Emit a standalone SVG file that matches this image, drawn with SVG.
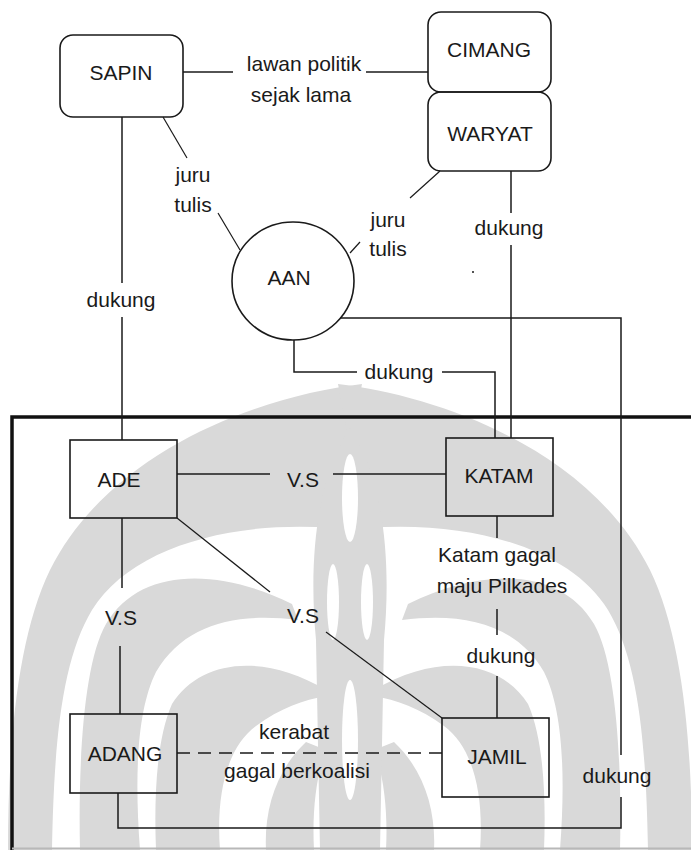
<svg xmlns="http://www.w3.org/2000/svg" width="691" height="850" viewBox="0 0 691 850">
  <style>
    .wm { fill: #d9d9d9; stroke: none; }
    .slit { fill: #ffffff; stroke: none; }
    .box { fill: none; stroke: #1a1a1a; stroke-width: 1.6; }
    .ln { fill: none; stroke: #1a1a1a; stroke-width: 1.5; }
    .thin { fill: none; stroke: #1a1a1a; stroke-width: 1.2; }
    .dash { fill: none; stroke: #1a1a1a; stroke-width: 1.6; stroke-dasharray: 13 8; }
    text { font-family: "Liberation Sans", Arial, sans-serif; font-size: 21px; fill: #1a1a1a; text-anchor: middle; }
  </style>
  <defs>
    <!-- one half of the background emblem: rim and arching leaves -->
    <g id="emblem-half">
      <path class="wm" d="M362,384 C260,396 110,450 50,570 C18,636 8,740 8,850 L52,850 C54,740 62,660 92,610 C130,548 230,520 334,528 Z"/>
      <path class="wm" d="M292,604 C220,568 140,566 106,624 C84,662 78,760 80,850 L140,850 C134,770 138,708 156,672 C184,624 236,612 298,620 Z"/>
      <path class="wm" d="M326,690 C262,652 200,660 172,704 C156,740 154,800 156,850 L220,850 C216,796 226,748 256,726 C280,708 304,700 326,696 Z"/>
      <path class="wm" d="M306,742 C276,770 264,810 266,850 L314,850 C312,812 316,776 326,750 Z"/>
    </g>
  </defs>

  <rect width="691" height="850" fill="#ffffff"/>

  <!-- faint background emblem -->
  <g id="emblem">
    <use href="#emblem-half"/>
    <use href="#emblem-half" transform="translate(700,0) scale(-1,1)"/>
    <path class="wm" d="M350,428 C382,476 392,556 384,640 L380,850 L320,850 L316,640 C308,556 318,476 350,428 Z"/>
    <ellipse class="slit" cx="350" cy="498" rx="8" ry="44"/>
    <ellipse class="slit" cx="333" cy="602" rx="6" ry="38"/>
    <ellipse class="slit" cx="367" cy="602" rx="6" ry="38"/>
    <ellipse class="slit" cx="350" cy="740" rx="8" ry="60"/>
  </g>

  <!-- village frame -->
  <g id="frame">
    <path d="M691,417 H12 V850" fill="none" stroke="#111" stroke-width="3.5"/>
    <line x1="12" y1="848.5" x2="691" y2="848.5" stroke="#b8b8b8" stroke-width="2"/>
  </g>

  <g id="connectors">
    <!-- SAPIN - CIMANG -->
    <line class="ln" x1="183" y1="72" x2="233" y2="72"/>
    <line class="ln" x1="366" y1="72" x2="428" y2="72"/>
    <!-- SAPIN - ADE -->
    <line class="ln" x1="122" y1="117" x2="122" y2="283"/>
    <line class="ln" x1="122" y1="317" x2="122" y2="440"/>
    <!-- SAPIN - AAN -->
    <line class="thin" x1="163" y1="117" x2="187" y2="158"/>
    <line class="thin" x1="218" y1="213" x2="240" y2="250"/>
    <!-- WARYAT - AAN -->
    <line class="thin" x1="440" y1="171" x2="410" y2="198"/>
    <line class="thin" x1="360" y1="242" x2="350" y2="253"/>
    <!-- WARYAT - KATAM -->
    <line class="ln" x1="511" y1="171" x2="511" y2="213"/>
    <line class="ln" x1="511" y1="245" x2="511" y2="438"/>
    <!-- AAN - ADANG -->
    <path class="ln" d="M340,318 H621 V755"/>
    <path class="ln" d="M621,797 V828 H118 V793"/>
    <!-- AAN - KATAM -->
    <path class="ln" d="M294,340 V372 H357"/>
    <path class="ln" d="M442,372 H495 V438"/>
    <!-- ADE - KATAM -->
    <line class="ln" x1="177" y1="474" x2="270" y2="474"/>
    <line class="ln" x1="333" y1="474" x2="446" y2="474"/>
    <!-- ADE - ADANG -->
    <line class="ln" x1="122" y1="518" x2="122" y2="588"/>
    <line class="ln" x1="120" y1="646" x2="120" y2="714"/>
    <!-- ADE - JAMIL -->
    <line class="thin" x1="177" y1="518" x2="270" y2="592"/>
    <line class="thin" x1="326" y1="632" x2="442" y2="718"/>
    <!-- ADANG - JAMIL -->
    <line class="dash" x1="177" y1="753" x2="442" y2="753"/>
    <!-- KATAM - JAMIL -->
    <line class="ln" x1="497" y1="516" x2="497" y2="538"/>
    <line class="ln" x1="497" y1="609" x2="497" y2="635"/>
    <line class="ln" x1="497" y1="676" x2="497" y2="718"/>
  </g>

  <g id="labels">
    <text x="304" y="71">lawan politik</text>
    <text x="301" y="102">sejak lama</text>
    <text x="193" y="182">juru</text>
    <text x="193" y="212">tulis</text>
    <text x="388" y="227">juru</text>
    <text x="388" y="256">tulis</text>
    <text x="121" y="307">dukung</text>
    <text x="509" y="235">dukung</text>
    <text x="399" y="379">dukung</text>
    <text x="303" y="487">V.S</text>
    <text x="121" y="625">V.S</text>
    <text x="303" y="623">V.S</text>
    <text x="497" y="562">Katam gagal</text>
    <text x="502" y="593">maju Pilkades</text>
    <text x="501" y="663">dukung</text>
    <text x="294" y="739">kerabat</text>
    <text x="297" y="778">gagal berkoalisi</text>
    <text x="617" y="783">dukung</text>
    <circle cx="473" cy="272" r="1" fill="#1a1a1a"/>
  </g>

  <g id="node-sapin">
    <rect class="box" x="60" y="35" width="123" height="82" rx="13"/>
    <text x="121" y="80">SAPIN</text>
  </g>
  <g id="node-cimang">
    <rect class="box" x="428" y="12" width="123" height="80" rx="13"/>
    <text x="489" y="57">CIMANG</text>
  </g>
  <g id="node-waryat">
    <rect class="box" x="428" y="92" width="123" height="79" rx="13"/>
    <text x="490" y="141">WARYAT</text>
  </g>
  <g id="node-aan">
    <ellipse class="box" cx="293" cy="281" rx="61" ry="59"/>
    <text x="289" y="285">AAN</text>
  </g>
  <g id="node-ade">
    <rect class="box" x="70" y="440" width="107" height="78"/>
    <text x="119" y="487">ADE</text>
  </g>
  <g id="node-katam">
    <rect class="box" x="446" y="438" width="107" height="78"/>
    <text x="499" y="483">KATAM</text>
  </g>
  <g id="node-adang">
    <rect class="box" x="70" y="714" width="107" height="79"/>
    <text x="125" y="761">ADANG</text>
  </g>
  <g id="node-jamil">
    <rect class="box" x="442" y="718" width="107" height="79"/>
    <text x="497" y="764">JAMIL</text>
  </g>
</svg>
